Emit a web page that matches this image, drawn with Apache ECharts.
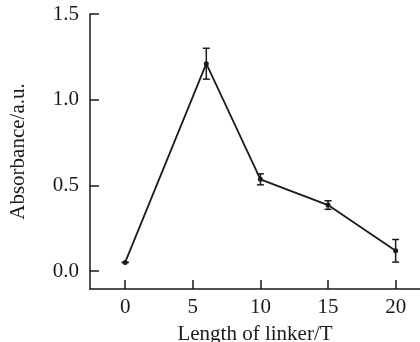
<!DOCTYPE html>
<html>
<head>
<meta charset="utf-8">
<script src="https://cdn.jsdelivr.net/npm/echarts@6/dist/echarts.min.js"></script>
<style>
  html, body { margin: 0; padding: 0; background: #fff; }
  #chart { width: 420px; height: 342px; }
</style>
</head>
<body>
<div id="chart"></div>
<script>
const linkerLength = [0, 6, 10, 15, 20];
const absorbance = [0.05, 1.21, 0.535, 0.385, 0.118];
const errorBars = [0, 0.09, 0.032, 0.025, 0.066];
const xTicks = [0, 5, 10, 15, 20];
const yTicks = [0.0, 0.5, 1.0, 1.5];

const font = "Liberation Serif";
const ink = "#1a1a1a";

const points = linkerLength.map((x, i) => [x, absorbance[i]]);
const errData = linkerLength.map((x, i) => [
  x,
  absorbance[i] - errorBars[i],
  absorbance[i] + errorBars[i],
]);

const chart = echarts.init(document.querySelector("#chart"));
chart.setOption({
  animation: false,
  grid: {
    left: 90,
    top: 14,
    right: 0,
    bottom: 53,
    outerBoundsMode: "none",
  },
  xAxis: {
    type: "value",
    min: -2.6,
    max: 21.8,
    name: "Length of linker/T",
    nameLocation: "middle",
    nameGap: 35,
    nameTextStyle: { fontFamily: font, fontSize: 21, color: ink },
    axisLine: { onZero: false, lineStyle: { color: ink, width: 1.5 } },
    axisTick: {
      inside: true,
      length: 9,
      lineStyle: { color: ink, width: 1.5 },
      customValues: xTicks,
    },
    axisLabel: {
      customValues: xTicks,
      margin: 8,
      fontFamily: font,
      fontSize: 21,
      color: ink,
    },
    splitLine: { show: false },
  },
  yAxis: {
    type: "value",
    min: -0.105,
    max: 1.5,
    name: "Absorbance/a.u.",
    nameLocation: "middle",
    nameGap: 61,
    nameTextStyle: { fontFamily: font, fontSize: 21, color: ink },
    axisLine: { show: true, onZero: false, lineStyle: { color: ink, width: 1.5 } },
    axisTick: {
      inside: true,
      length: 9,
      lineStyle: { color: ink, width: 1.5 },
      customValues: yTicks,
    },
    axisLabel: {
      customValues: yTicks,
      margin: 11,
      fontFamily: font,
      fontSize: 21,
      color: ink,
      formatter: (v) => v.toFixed(1),
    },
    splitLine: { show: false },
  },
  series: [
    {
      type: "line",
      data: points,
      symbol: "circle",
      symbolSize: 5,
      lineStyle: { color: ink, width: 1.8 },
      itemStyle: { color: ink },
      z: 3,
    },
    {
      type: "custom",
      data: errData,
      z: 4,
      renderItem: (params, api) => {
        const x = api.value(0);
        const lo = api.coord([x, api.value(1)]);
        const hi = api.coord([x, api.value(2)]);
        const w = 3.5;
        const style = { stroke: ink, lineWidth: 1.5 };
        return {
          type: "group",
          children: [
            { type: "line", shape: { x1: lo[0], y1: lo[1], x2: hi[0], y2: hi[1] }, style },
            { type: "line", shape: { x1: lo[0] - w, y1: lo[1], x2: lo[0] + w, y2: lo[1] }, style },
            { type: "line", shape: { x1: hi[0] - w, y1: hi[1], x2: hi[0] + w, y2: hi[1] }, style },
          ],
        };
      },
    },
  ],
});
</script>
</body>
</html>
